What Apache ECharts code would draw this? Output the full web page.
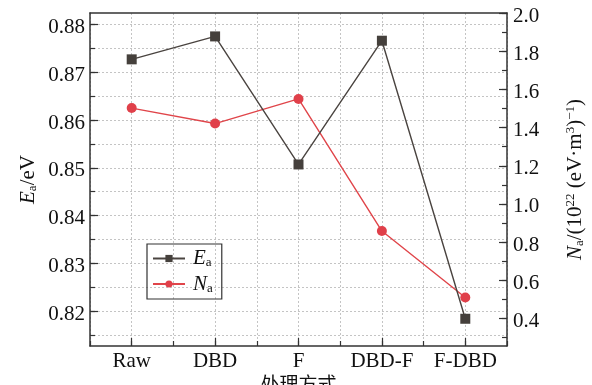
<!DOCTYPE html>
<html>
<head>
<meta charset="utf-8">
<script src="https://cdn.jsdelivr.net/npm/echarts@6/dist/echarts.min.js"></script>
<style>html,body{margin:0;padding:0;background:#fff}#c{width:592px;height:385px}</style>
</head>
<body>
<div id="c"></div>
<script>
var categories = ['Raw', 'DBD', 'F', 'DBD-F', 'F-DBD'];
var eaValues = [0.8727, 0.8775, 0.8507, 0.8766, 0.8184];
var naValues = [1.502, 1.421, 1.550, 0.858, 0.510];
var leftLabels = [0.82, 0.83, 0.84, 0.85, 0.86, 0.87, 0.88];
var leftMinor = [0.815, 0.82, 0.825, 0.83, 0.835, 0.84, 0.845, 0.85, 0.855, 0.86, 0.865, 0.87, 0.875, 0.88];
var rightLabels = [0.4, 0.6, 0.8, 1.0, 1.2, 1.4, 1.6, 1.8, 2.0];
var rightMinor = [0.3, 0.4, 0.5, 0.6, 0.7, 0.8, 0.9, 1.0, 1.1, 1.2, 1.3, 1.4, 1.5, 1.6, 1.7, 1.8, 1.9, 2.0];
var xCenters = [0, 1, 2, 3, 4];
var xAll = [-0.5, 0, 0.5, 1, 1.5, 2, 2.5, 3, 3.5, 4, 4.5];

var FONT = '"Liberation Serif", "Times New Roman", serif';
var AX = '#333';
var GRID = '#c4c4c4';

var chart = echarts.init(document.getElementById('c'), null, {renderer: 'canvas'});

function pairs(vals) { return vals.map(function (v, i) { return [i, v]; }); }

var tickRich = {v: {fontFamily: FONT, fontSize: 21, color: '#111', padding: [6, 0, 0, 0]}};

chart.setOption({
  animation: false,
  backgroundColor: '#fff',
  grid: {left: 90, top: 13, right: 85, bottom: 39, containLabel: false, outerBoundsMode: 'none'},
  legend: {
    left: 147, top: 244,
    orient: 'vertical',
    itemWidth: 32, itemHeight: 9, itemGap: 4,
    padding: [4, 9, 4, 5],
    borderColor: '#333', borderWidth: 1.2,
    data: ['Ea', 'Na'],
    formatter: function (n) { return n === 'Ea' ? '{g|}{i|E}{s|a}' : '{g|}{i|N}{s|a}'; },
    textStyle: {
      fontFamily: FONT, fontSize: 21, color: '#111',
      rich: {
        g: {width: 3},
        i: {fontFamily: FONT, fontSize: 21, fontStyle: 'italic', color: '#111'},
        s: {fontFamily: FONT, fontSize: 13, color: '#111', padding: [9, 0, 0, 0]}
      }
    }
  },
  xAxis: [
    {
      type: 'value', min: -0.5, max: 4.5, position: 'bottom',
      name: '处理方式', nameLocation: 'middle', nameGap: 28, nameMoveOverlap: false,
      nameTextStyle: {fontFamily: 'Noto Sans CJK SC', fontSize: 19, color: '#111', verticalAlign: 'top'},
      axisLine: {show: true, onZero: false, lineStyle: {color: AX, width: 1.5}},
      axisTick: {show: true, inside: true, length: 5, customValues: xAll, lineStyle: {color: AX, width: 1.2}},
      splitLine: {show: true, lineStyle: {color: GRID, type: [2, 2], width: 1}},
      axisLabel: {customValues: xCenters, margin: 5, fontFamily: FONT, fontSize: 21, color: '#111',
        formatter: function (v) { return categories[Math.round(v)]; }}
    },
    {
      type: 'value', min: -0.5, max: 4.5, position: 'bottom',
      axisLine: {show: false, onZero: false},
      axisTick: {show: true, inside: true, length: 8, customValues: xCenters, lineStyle: {color: AX, width: 1.2}},
      splitLine: {show: false},
      axisLabel: {show: false}
    },
    {
      type: 'value', min: -0.5, max: 4.5, position: 'top',
      axisLine: {show: true, onZero: false, lineStyle: {color: AX, width: 1.5}},
      axisTick: {show: false}, splitLine: {show: false}, axisLabel: {show: false}
    }
  ],
  yAxis: [
    {
      type: 'value', min: 0.8127, max: 0.8824, position: 'left',
      name: '{i|E}{s|a}{n|/eV}', nameLocation: 'middle', nameGap: 51, nameRotate: 90, nameMoveOverlap: false,
      nameTextStyle: {
        fontFamily: FONT, fontSize: 21, color: '#111',
        rich: {
          i: {fontFamily: FONT, fontSize: 21, fontStyle: 'italic', color: '#111'},
          s: {fontFamily: FONT, fontSize: 13, color: '#111', padding: [9, 0, 0, 0]},
          n: {fontFamily: FONT, fontSize: 21, color: '#111'}
        }
      },
      axisLine: {show: true, onZero: false, lineStyle: {color: AX, width: 1.5}},
      axisTick: {show: true, inside: true, length: 5, customValues: leftMinor, lineStyle: {color: AX, width: 1.2}},
      splitLine: {show: true, lineStyle: {color: GRID, type: [2, 2], width: 1}},
      axisLabel: {customValues: leftLabels, margin: 5, fontFamily: FONT, fontSize: 21, color: '#111', rich: tickRich,
        formatter: function (v) { return '{v|' + v.toFixed(2) + '}'; }}
    },
    {
      type: 'value', min: 0.256, max: 2.0, position: 'right',
      name: '{i|N}{s|a}{n|/(10}{p|22}{n| (eV·m}{p|3}{n|)}{p|−1}{n|)}', nameLocation: 'middle', nameGap: 57, nameRotate: 90, nameMoveOverlap: false,
      nameTextStyle: {
        fontFamily: FONT, fontSize: 21, color: '#111',
        rich: {
          i: {fontFamily: FONT, fontSize: 21, fontStyle: 'italic', color: '#111'},
          s: {fontFamily: FONT, fontSize: 13, color: '#111', padding: [9, 0, 0, 0]},
          p: {fontFamily: FONT, fontSize: 13, color: '#111', padding: [0, 0, 9, 0]},
          n: {fontFamily: FONT, fontSize: 21, color: '#111'}
        }
      },
      axisLine: {show: true, onZero: false, lineStyle: {color: AX, width: 1.5}},
      axisTick: {show: true, inside: true, length: 5, customValues: rightMinor, lineStyle: {color: AX, width: 1.2}},
      splitLine: {show: false},
      axisLabel: {customValues: rightLabels, margin: 6, fontFamily: FONT, fontSize: 21, color: '#111', rich: tickRich,
        formatter: function (v) { return '{v|' + v.toFixed(1) + '}'; }}
    },
    {
      type: 'value', min: 0.8127, max: 0.8824, position: 'left',
      axisLine: {show: false, onZero: false},
      axisTick: {show: true, inside: true, length: 8, customValues: leftLabels, lineStyle: {color: AX, width: 1.2}},
      splitLine: {show: false}, axisLabel: {show: false}
    },
    {
      type: 'value', min: 0.256, max: 2.0, position: 'right',
      axisLine: {show: false, onZero: false},
      axisTick: {show: true, inside: true, length: 8, customValues: rightLabels, lineStyle: {color: AX, width: 1.2}},
      splitLine: {show: false}, axisLabel: {show: false}
    }
  ],
  series: [
    {
      name: 'Ea', type: 'line', xAxisIndex: 0, yAxisIndex: 0,
      data: pairs(eaValues),
      symbol: 'rect', symbolSize: 10,
      lineStyle: {color: '#4a4440', width: 1.4},
      itemStyle: {color: '#45403c'},
      z: 3
    },
    {
      name: 'Na', type: 'line', xAxisIndex: 0, yAxisIndex: 1,
      data: pairs(naValues),
      symbol: 'circle', symbolSize: 10,
      lineStyle: {color: '#e0454a', width: 1.4},
      itemStyle: {color: '#e0404a'},
      z: 2
    }
  ]
});
</script>
</body>
</html>
